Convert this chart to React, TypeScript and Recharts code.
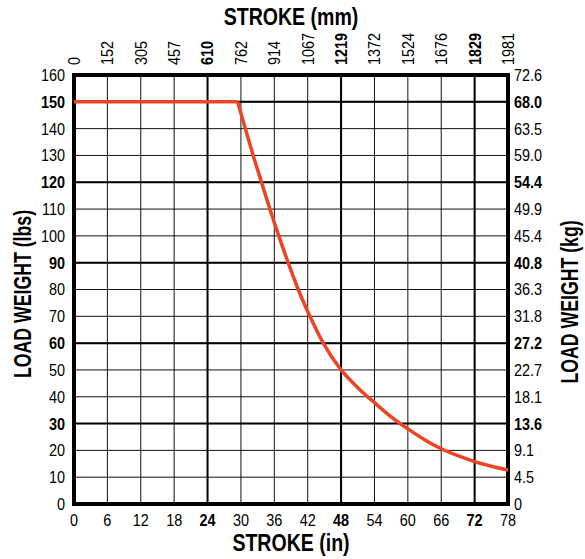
import { LineChart, Line, XAxis, YAxis, CartesianGrid, ReferenceLine, ReferenceArea } from "recharts";

// stroke (in) vs max load (lbs)
const flatIn = [0, 29.4];
const flatLbs = [150, 150];
const dropIn = [29.4, 30.8, 32.2, 33.7, 35.2, 36.8, 38.5, 40.3, 42.4, 44.8, 48, 51, 54, 57, 60, 63, 66, 69, 72, 75, 78];
const dropLbs = [150, 140, 130, 120, 110, 100, 90, 80, 70, 60, 50, 43.4, 37.8, 32.5, 28, 24, 20.6, 18, 15.8, 14.1, 12.7];

const inTicks = [0, 6, 12, 18, 24, 30, 36, 42, 48, 54, 60, 66, 72, 78];
const mmLabels = ["0", "152", "305", "457", "610", "762", "914", "1067", "1219", "1372", "1524", "1676", "1829", "1981"];
const lbsTicks = [0, 10, 20, 30, 40, 50, 60, 70, 80, 90, 100, 110, 120, 130, 140, 150, 160];
const kgLabels = ["0", "4.5", "9.1", "13.6", "18.1", "22.7", "27.2", "31.8", "36.3", "40.8", "45.4", "49.9", "54.4", "59.0", "63.5", "68.0", "72.6"];

const boldIn = [24, 48, 72];
const boldLbs = [30, 60, 90, 120, 150];

const data = [
  ...flatIn.map((x, i) => ({ x, flat: flatLbs[i] })),
  ...dropIn.map((x, i) => ({ x, drop: dropLbs[i] })),
];

const font = "'Liberation Sans', Arial, sans-serif";
const narrow = 0.85;
const tickSize = 17;

function BottomTick({ x, y, payload }: any) {
  const v = payload.value;
  return (
    <text transform={`translate(${x},${y + 20}) scale(${narrow},1)`} textAnchor="middle" fontFamily={font}
      fontSize={tickSize} fontWeight={boldIn.includes(v) ? 700 : 400} fill="#000">
      {v}
    </text>
  );
}

function TopTick({ x, y, payload }: any) {
  const v = payload.value;
  const i = inTicks.indexOf(v);
  return (
    <text transform={`translate(${x},${y - 8}) rotate(-90) scale(${narrow},1)`} dy="0.35em" textAnchor="start"
      fontFamily={font} fontSize={tickSize} fontWeight={boldIn.includes(v) ? 700 : 400} fill="#000">
      {mmLabels[i]}
    </text>
  );
}

function LeftTick({ x, y, payload }: any) {
  const v = payload.value;
  return (
    <text transform={`translate(${x - 7},${y}) scale(${narrow},1)`} dy="0.35em" textAnchor="end" fontFamily={font}
      fontSize={tickSize} fontWeight={boldLbs.includes(v) ? 700 : 400} fill="#000">
      {v}
    </text>
  );
}

function RightTick({ x, y, payload }: any) {
  const v = payload.value;
  const i = lbsTicks.indexOf(v);
  return (
    <text transform={`translate(${x + 4},${y}) scale(${narrow},1)`} dy="0.35em" textAnchor="start" fontFamily={font}
      fontSize={tickSize} fontWeight={boldLbs.includes(v) ? 700 : 400} fill="#000">
      {kgLabels[i]}
    </text>
  );
}

export default function App() {
  const W = 585;
  const H = 559;
  const titleStyle = { fontFamily: font, fontSize: 23, fontWeight: 700, fill: "#000" } as const;
  return (
    <div style={{ position: "absolute", left: 0, top: 0, width: W, height: H, background: "#fff" }}>
      <LineChart width={W} height={H} data={data} margin={{ top: 25, right: 32, bottom: 25, left: 34 }}>
        <CartesianGrid stroke="#111" strokeWidth={1} />
        <XAxis dataKey="x" type="number" domain={[0, 78]} ticks={inTicks} allowDataOverflow
          orientation="bottom" height={30} axisLine={false} tickLine={false} tickSize={0}
          interval={0} tick={<BottomTick />} />
        <XAxis xAxisId="top" dataKey="x" type="number" domain={[0, 78]} ticks={inTicks} allowDataOverflow
          orientation="top" height={50} axisLine={false} tickLine={false} tickSize={0}
          interval={0} tick={<TopTick />} />
        <YAxis type="number" domain={[0, 160]} ticks={lbsTicks} width={40} allowDataOverflow
          axisLine={false} tickLine={false} tickSize={0} interval={0} tick={<LeftTick />} />
        <YAxis yAxisId="right" orientation="right" type="number" domain={[0, 160]} ticks={lbsTicks}
          width={45} allowDataOverflow axisLine={false} tickLine={false} tickSize={0} interval={0}
          tick={<RightTick />} />
        {boldIn.map((v) => (
          <ReferenceLine key={`vx${v}`} x={v} stroke="#000" strokeWidth={2} />
        ))}
        {boldLbs.map((v) => (
          <ReferenceLine key={`hy${v}`} y={v} stroke="#000" strokeWidth={2} />
        ))}
        <Line xAxisId="top" yAxisId="right" type="linear" dataKey="flat" stroke="none"
          dot={false} isAnimationActive={false} legendType="none" />
        <Line type="linear" dataKey="flat" stroke="#ee4424" strokeWidth={3.5} dot={false}
          isAnimationActive={false} connectNulls={false} />
        <Line type="monotone" dataKey="drop" stroke="#ee4424" strokeWidth={3.5} dot={false}
          isAnimationActive={false} connectNulls={false} />
        <ReferenceArea x1={0} x2={78} y1={0} y2={160} fill="none" stroke="#000" strokeWidth={4}
          ifOverflow="visible" />
      </LineChart>
      <svg width={W} height={H} style={{ position: "absolute", left: 0, top: 0, pointerEvents: "none" }}>
        <text transform={`translate(291,25) scale(${narrow},1)`} textAnchor="middle" {...titleStyle}>STROKE (mm)</text>
        <text transform={`translate(291,551) scale(${narrow},1)`} textAnchor="middle" {...titleStyle}>STROKE (in)</text>
        <text transform="translate(31,294) rotate(-90) scale(0.77,1)" textAnchor="middle" {...titleStyle}>LOAD WEIGHT (lbs)</text>
        <text transform="translate(578,302) rotate(-90) scale(0.77,1)" textAnchor="middle" {...titleStyle}>LOAD WEIGHT (kg)</text>
      </svg>
    </div>
  );
}
